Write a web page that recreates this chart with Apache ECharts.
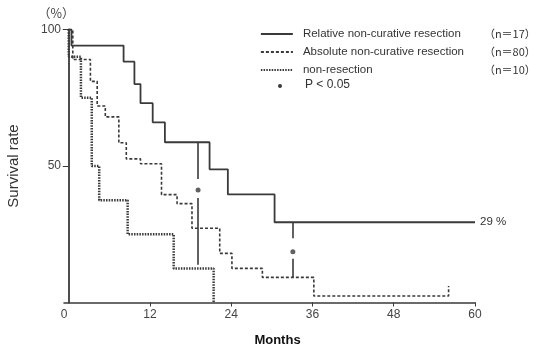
<!DOCTYPE html>
<html>
<head>
    <meta charset="UTF-8">
    <title>Survival rate</title>
    <script src="https://cdn.jsdelivr.net/npm/echarts@6.0.0/dist/echarts.min.js"></script>
    <style>
        html, body { margin: 0; padding: 0; background: #fff; }
        #chart { width: 536px; height: 351px; }
    </style>
</head>
<body>
    <div id="chart"></div>
    <script>
        // values (months, %)
        const relMonths = [0, 0.4, 8.1, 9.7, 10.6, 12.4, 14.2, 20.8, 23.5, 30.4, 60];
        const relSurvival = [100, 94.1, 88.2, 80, 73, 66, 58.7, 48.8, 39.6, 29.4, 29.4];

        const absMonths = [0, 0.6, 3.2, 4.2, 5.4, 7.4, 8.5, 10.6, 13.7, 16.0, 18.2, 22.3, 24.1, 28.6, 36.2, 56.1, 56.1];
        const absSurvival = [100, 89, 81, 72, 68, 58.5, 52.6, 50.8, 39.5, 36.2, 27.2, 18, 12.5, 9.2, 2.4, 2.4, 6];

        const nonMonths = [0, 0, 1.8, 3.4, 4.5, 8.7, 15.5, 21.4];
        const nonSurvival = [100, 90, 75, 50, 37.5, 25, 12.5, 0];

        // p < 0.05 markers: vertical bar with a gap and a dot
        const sigMonths = [19.1, 33.1];
        const sigTop = [58.7, 29.4];
        const sigGapTop = [45.2, 23.5];
        const sigDot = [41.2, 18.6];
        const sigGapBottom = [38.3, 16.0];
        const sigBottom = [13.8, 9.2];

        const xTicks = [12, 24, 36, 48, 60];
        const yTicks = [50, 100];

        const seriesNames = ['Relative non-curative resection', 'Absolute non-curative resection', 'non-resection'];
        const seriesN = ['17', '80', '10'];

        const ink = '#3a3a3a';
        const textInk = '#333';

        const pairs = (xs, ys) => xs.map((x, i) => [x, ys[i]]);

        const sigSegments = [];
        sigMonths.forEach((m, i) => {
            sigSegments.push({ coords: [[m, sigTop[i]], [m, sigGapTop[i]]] });
            sigSegments.push({ coords: [[m, sigGapBottom[i]], [m, sigBottom[i]]] });
        });

        const chart = echarts.init(document.getElementById('chart'));

        const option = {
            animation: false,
            grid: {
                left: 64,
                right: 61,
                top: 29.5,
                bottom: 48.5,
                outerBoundsMode: 'none'
            },
            legend: {
                orient: 'vertical',
                left: 260,
                top: 28,
                padding: 0,
                itemWidth: 32,
                itemHeight: 14,
                itemGap: 6,
                selectedMode: false,
                itemStyle: { opacity: 0, borderWidth: 0 },
                lineStyle: { width: 1.8 },
                data: seriesNames,
                formatter: function (name) {
                    const i = seriesNames.indexOf(name);
                    return '{a|' + name + '}{b|（n＝' + seriesN[i] + '）}';
                },
                textStyle: {
                    rich: {
                        a: { width: 181, fontSize: 11.5, color: textInk, lineHeight: 14, padding: [0, 0, 0, 5],
                             fontFamily: 'Liberation Sans' },
                        b: { fontSize: 11, color: textInk, lineHeight: 14, fontFamily: 'Noto Sans CJK JP' }
                    }
                }
            },
            xAxis: {
                type: 'value',
                min: -0.7,
                max: 60,
                name: 'Months',
                nameLocation: 'middle',
                nameGap: 31,
                nameTextStyle: { fontSize: 13, fontWeight: 'bold', color: '#111', padding: [0, 0, 0, 16],
                                 fontFamily: 'Liberation Sans' },
                axisLine: { lineStyle: { color: ink, width: 1.6 } },
                axisTick: { customValues: xTicks, length: 4, lineStyle: { color: ink } },
                axisLabel: {
                    customValues: [-0.7].concat(xTicks),
                    formatter: v => (v < 0 ? '0' : String(v)),
                    fontSize: 12,
                    color: '#444',
                    margin: 6
                },
                splitLine: { show: false }
            },
            yAxis: {
                type: 'value',
                min: 0,
                max: 100,
                name: 'Survival rate',
                nameLocation: 'middle',
                nameRotate: 90,
                nameGap: 43,
                nameTextStyle: { fontSize: 15, color: textInk, fontFamily: 'Liberation Sans' },
                axisLine: { show: true, lineStyle: { color: ink, width: 1.8 } },
                axisTick: { show: true, customValues: yTicks, length: 6, lineStyle: { color: ink } },
                axisLabel: { customValues: yTicks, fontSize: 12, color: '#444', margin: 3 },
                splitLine: { show: false }
            },
            graphic: [
                { type: 'text', left: 38, top: 7,
                  style: { text: '（%）', fontSize: 12.5, fill: '#444', fontFamily: 'Noto Sans CJK JP' } },
                { type: 'circle', shape: { cx: 280, cy: 86, r: 2 }, style: { fill: ink } },
                { type: 'text', left: 305, top: 79,
                  style: { text: 'P < 0.05', fontSize: 12, fill: textInk, fontFamily: 'Liberation Sans' } }
            ],
            series: [
                {
                    name: seriesNames[0],
                    type: 'line',
                    step: 'end',
                    symbol: 'none',
                    data: pairs(relMonths, relSurvival),
                    lineStyle: { color: ink, width: 1.8, type: 'solid' },
                    itemStyle: { color: ink },
                    endLabel: { show: true, formatter: '29 %', fontSize: 11.5, color: textInk, distance: 5 }
                },
                {
                    name: seriesNames[1],
                    type: 'line',
                    step: 'end',
                    symbol: 'none',
                    data: pairs(absMonths, absSurvival),
                    lineStyle: { color: ink, width: 1.6, type: [3, 2] },
                    itemStyle: { color: ink }
                },
                {
                    name: seriesNames[2],
                    type: 'line',
                    step: 'end',
                    symbol: 'none',
                    data: pairs(nonMonths, nonSurvival),
                    lineStyle: { color: ink, width: 2.5, type: [1.5, 1.2] },
                    itemStyle: { color: ink }
                },
                {
                    name: 'sig',
                    type: 'lines',
                    coordinateSystem: 'cartesian2d',
                    data: sigSegments,
                    lineStyle: { color: ink, width: 1.6, opacity: 1 },
                    silent: true
                },
                {
                    name: 'P < 0.05',
                    type: 'scatter',
                    symbol: 'circle',
                    symbolSize: 5,
                    data: pairs(sigMonths, sigDot),
                    itemStyle: { color: ink },
                    silent: true
                }
            ]
        };

        chart.setOption(option);
    </script>
</body>
</html>
